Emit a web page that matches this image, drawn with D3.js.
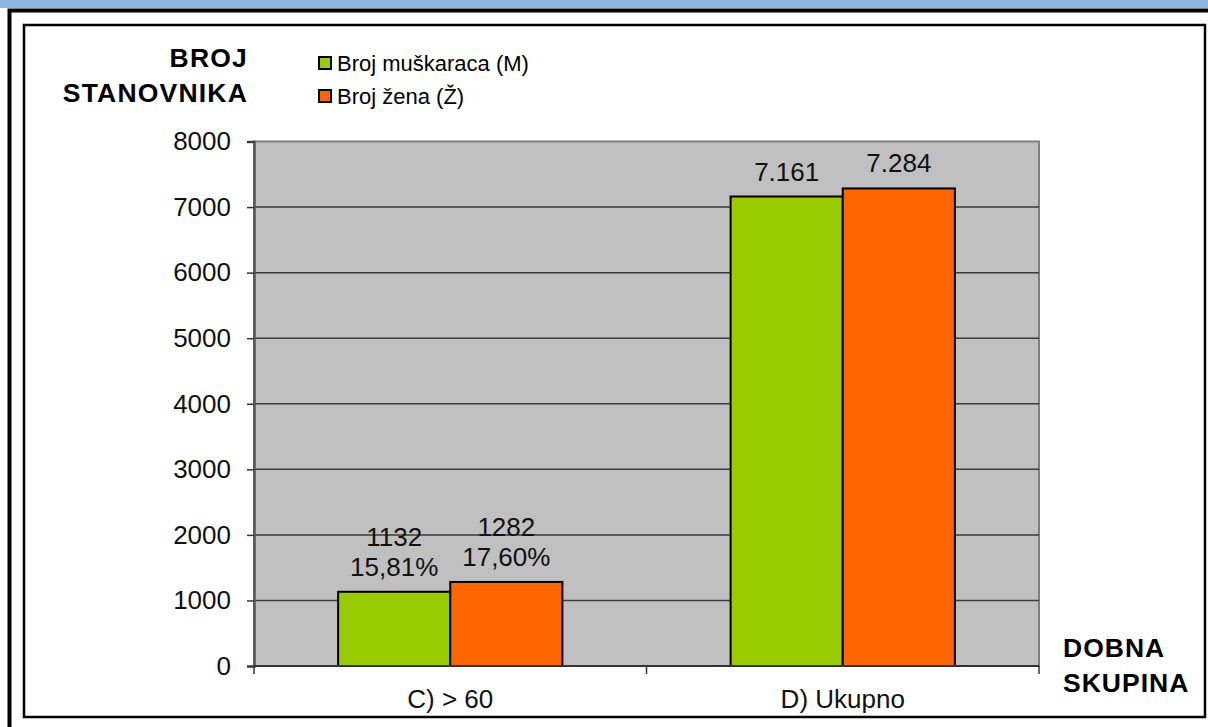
<!DOCTYPE html>
<html>
<head>
<meta charset="utf-8">
<script src="https://cdn.jsdelivr.net/npm/d3@7/dist/d3.min.js"></script>
<style>
  html, body { margin: 0; padding: 0; background: #fff; }
  svg { display: block; font-family: "Liberation Sans", Arial, sans-serif; }
</style>
</head>
<body>
<svg id="chart" width="1208" height="727"></svg>
<script>
// ---- data ----
const categories = ["C) > 60", "D) Ukupno"];
const seriesNames = ["Broj muškaraca (M)", "Broj žena (Ž)"];
const menValues = [1132, 7161];
const womenValues = [1282, 7284];
const menLabels = [["1132", "15,81%"], ["7.161"]];
const womenLabels = [["1282", "17,60%"], ["7.284"]];
const yTickValues = [0, 1000, 2000, 3000, 4000, 5000, 6000, 7000, 8000];
const yTitle = ["BROJ", "STANOVNIKA"];
const xTitle = ["DOBNA", "SKUPINA"];
const seriesColors = ["#99CC00", "#FF6600"];

const svg = d3.select("#chart");

// top band
svg.append("rect").attr("x", 0).attr("y", 0).attr("width", 1208).attr("height", 8).attr("fill", "#8EB4E3");
// outer thick frame
svg.append("rect").attr("x", 9.5).attr("y", 10.5).attr("width", 1300).attr("height", 1000)
  .attr("fill", "#fff").attr("stroke", "#000").attr("stroke-width", 4);
// inner frame
svg.append("rect").attr("x", 24).attr("y", 25).attr("width", 1181).attr("height", 692)
  .attr("fill", "#fff").attr("stroke", "#000").attr("stroke-width", 2.5);

const plotL = 254, plotR = 1039, plotT = 141.5, plotB = 666;

const x = d3.scaleBand().domain(categories).range([plotL, plotR]).paddingInner(0).paddingOuter(0);
const xs = d3.scaleBand().domain([0, 1]).range([0, x.bandwidth()]).paddingInner(0).paddingOuter(0.75);
const y = d3.scaleLinear().domain([0, 8000]).range([plotB, plotT]);

// plot background
svg.append("rect").attr("x", plotL).attr("y", plotT).attr("width", plotR - plotL).attr("height", plotB - plotT)
  .attr("fill", "#C0C0C0").attr("stroke", "#808080").attr("stroke-width", 2);

// gridlines
svg.append("g").selectAll("line").data(yTickValues.filter(v => v > 0 && v < 8000)).join("line")
  .attr("x1", plotL).attr("x2", plotR).attr("y1", d => y(d)).attr("y2", d => y(d))
  .attr("stroke", "#3a3a3a").attr("stroke-width", 1.5);

// bars
const series = [menValues, womenValues];
const labelsAll = [menLabels, womenLabels];
series.forEach((vals, si) => {
  svg.append("g").selectAll("rect").data(categories).join("rect")
    .attr("x", (c) => x(c) + xs(si))
    .attr("y", (c, i) => y(vals[i]))
    .attr("width", xs.bandwidth())
    .attr("height", (c, i) => plotB - y(vals[i]))
    .attr("fill", seriesColors[si])
    .attr("stroke", "#000").attr("stroke-width", 2);
});

// y axis
const yAxis = d3.axisLeft(y).tickValues(yTickValues).tickSize(7).tickPadding(16).tickFormat(d3.format("d"));
const gy = svg.append("g").attr("transform", `translate(${plotL},0)`).call(yAxis);
gy.select(".domain").attr("stroke", "#555").attr("stroke-width", 2.5);
gy.selectAll(".tick line").attr("stroke", "#333").attr("stroke-width", 1.5);
gy.selectAll(".tick text").attr("font-size", 26).attr("fill", "#111")
  .attr("font-family", "Liberation Sans, Arial, sans-serif");

// x axis baseline and ticks
svg.append("line").attr("x1", plotL).attr("x2", plotR).attr("y1", plotB).attr("y2", plotB)
  .attr("stroke", "#333").attr("stroke-width", 2);
const edges = categories.map(c => x(c)).concat([x(categories[categories.length - 1]) + x.bandwidth()]);
svg.append("g").selectAll("line").data(edges).join("line")
  .attr("x1", d => d).attr("x2", d => d).attr("y1", plotB).attr("y2", plotB + 8)
  .attr("stroke", "#333").attr("stroke-width", 1.5);

// x category labels
svg.append("g").selectAll("text").data(categories).join("text")
  .attr("x", c => x(c) + x.bandwidth() / 2).attr("y", 708)
  .attr("text-anchor", "middle").attr("font-size", 26).attr("fill", "#111")
  .text(c => c);

// value labels
series.forEach((vals, si) => {
  categories.forEach((c, i) => {
    const lines = labelsAll[si][i];
    const cx = x(c) + xs(si) + xs.bandwidth() / 2;
    const top = y(vals[i]);
    lines.forEach((t, li) => {
      svg.append("text").attr("x", cx).attr("y", top - 16 - (lines.length - 1 - li) * 30)
        .attr("text-anchor", "middle").attr("font-size", 26).attr("fill", "#111").text(t);
    });
  });
});

// axis titles
yTitle.forEach((t, i) => {
  svg.append("text").attr("x", 248).attr("y", 67 + i * 35).attr("text-anchor", "end")
    .attr("font-size", 26.5).attr("font-weight", "bold").attr("letter-spacing", 1.2)
    .attr("fill", "#000").text(t);
});
xTitle.forEach((t, i) => {
  svg.append("text").attr("x", 1063).attr("y", 657 + i * 35).attr("text-anchor", "start")
    .attr("font-size", 26.5).attr("font-weight", "bold").attr("letter-spacing", 1)
    .attr("fill", "#000").text(t);
});

// legend
const lg = svg.append("g");
seriesNames.forEach((n, i) => {
  const yy = 63 + i * 33;
  lg.append("rect").attr("x", 319).attr("y", yy - 6).attr("width", 12).attr("height", 12)
    .attr("fill", seriesColors[i]).attr("stroke", "#000").attr("stroke-width", 2);
  lg.append("text").attr("x", 337).attr("y", yy + 8).attr("font-size", 22).attr("fill", "#000").text(n);
});
</script>
</body>
</html>
